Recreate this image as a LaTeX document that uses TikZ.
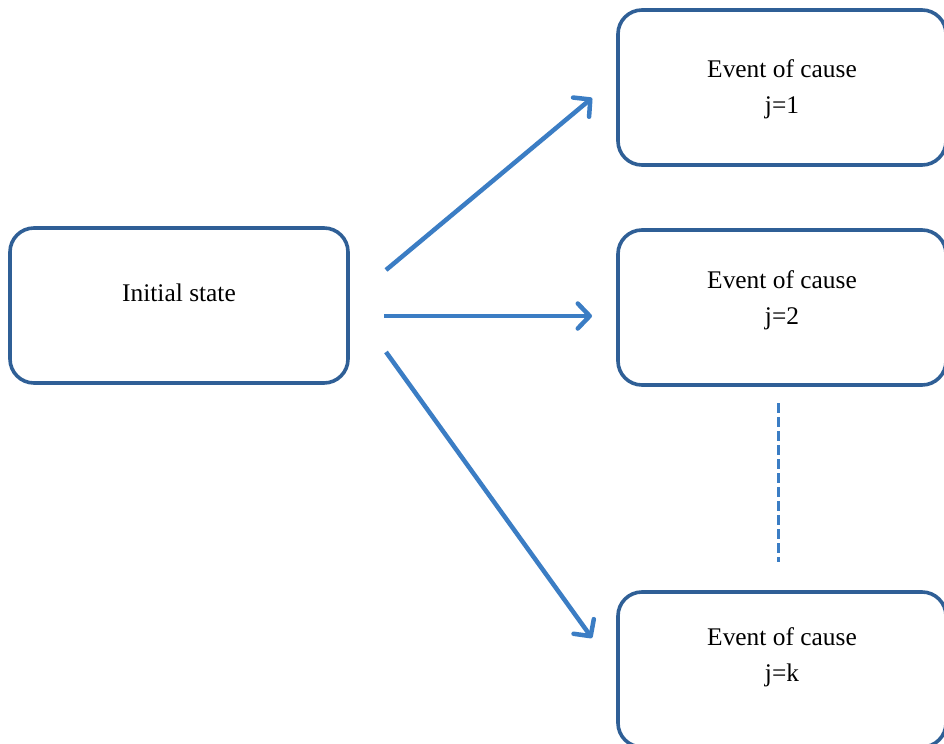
\documentclass[tikz,border=0pt]{standalone}
\usepackage{fontspec}
\setmainfont{Liberation Serif}
\usetikzlibrary{arrows.meta}
\definecolor{boxblue}{HTML}{2F5F96}
\definecolor{arrblue}{HTML}{3B7DC4}
\begin{document}
\begin{tikzpicture}[x=1bp,y=-1bp,
  evbox/.style={draw=boxblue,line width=3.6bp,rounded corners=24bp,fill=white,inner sep=0pt},
  lbl/.style={font=\fontsize{25.5}{36}\selectfont,align=center,inner sep=0pt},
  conn/.style={draw=arrblue,line width=4.5bp,-{Straight Barb[length=12bp,width=25bp,line width=4.5bp,round]}}]
\clip (0,0) rectangle (944,744);
\fill[white] (0,0) rectangle (944,744);
% boxes
\node[evbox,minimum width=338bp,minimum height=155bp] (init) at (179,305.5) {};
\node[evbox,minimum width=328bp,minimum height=155bp] (e1) at (782,87.5) {};
\node[evbox,minimum width=328bp,minimum height=155bp] (e2) at (782,307.5) {};
\node[evbox,minimum width=328bp,minimum height=155bp] (ek) at (782,669.5) {};
% texts
\node[lbl] (tinit) at (179,293) {Initial state};
\node[lbl] (t1) at (782,89) {Event of cause\\j=1};
\node[lbl] (t2) at (782,300) {Event of cause\\j=2};
\node[lbl] (tk) at (782,657) {Event of cause\\j=k};
% connectors
\coordinate (s1) at (386,270);
\coordinate (s2) at (384,316);
\coordinate (s3) at (386,352);
\coordinate (p1) at (592,98);
\coordinate (p2) at (592,316);
\coordinate (p3) at (592,638);
\draw[conn] (s1) -- (p1);
\draw[conn] (s2) -- (p2);
\draw[conn] (s3) -- (p3);
% dashed
\coordinate (d1) at (778,403);
\coordinate (d2) at (778,562);
\draw[arrblue,line width=3bp,dash pattern=on 10bp off 4bp] (d1) -- (d2);
\end{tikzpicture}
\end{document}
